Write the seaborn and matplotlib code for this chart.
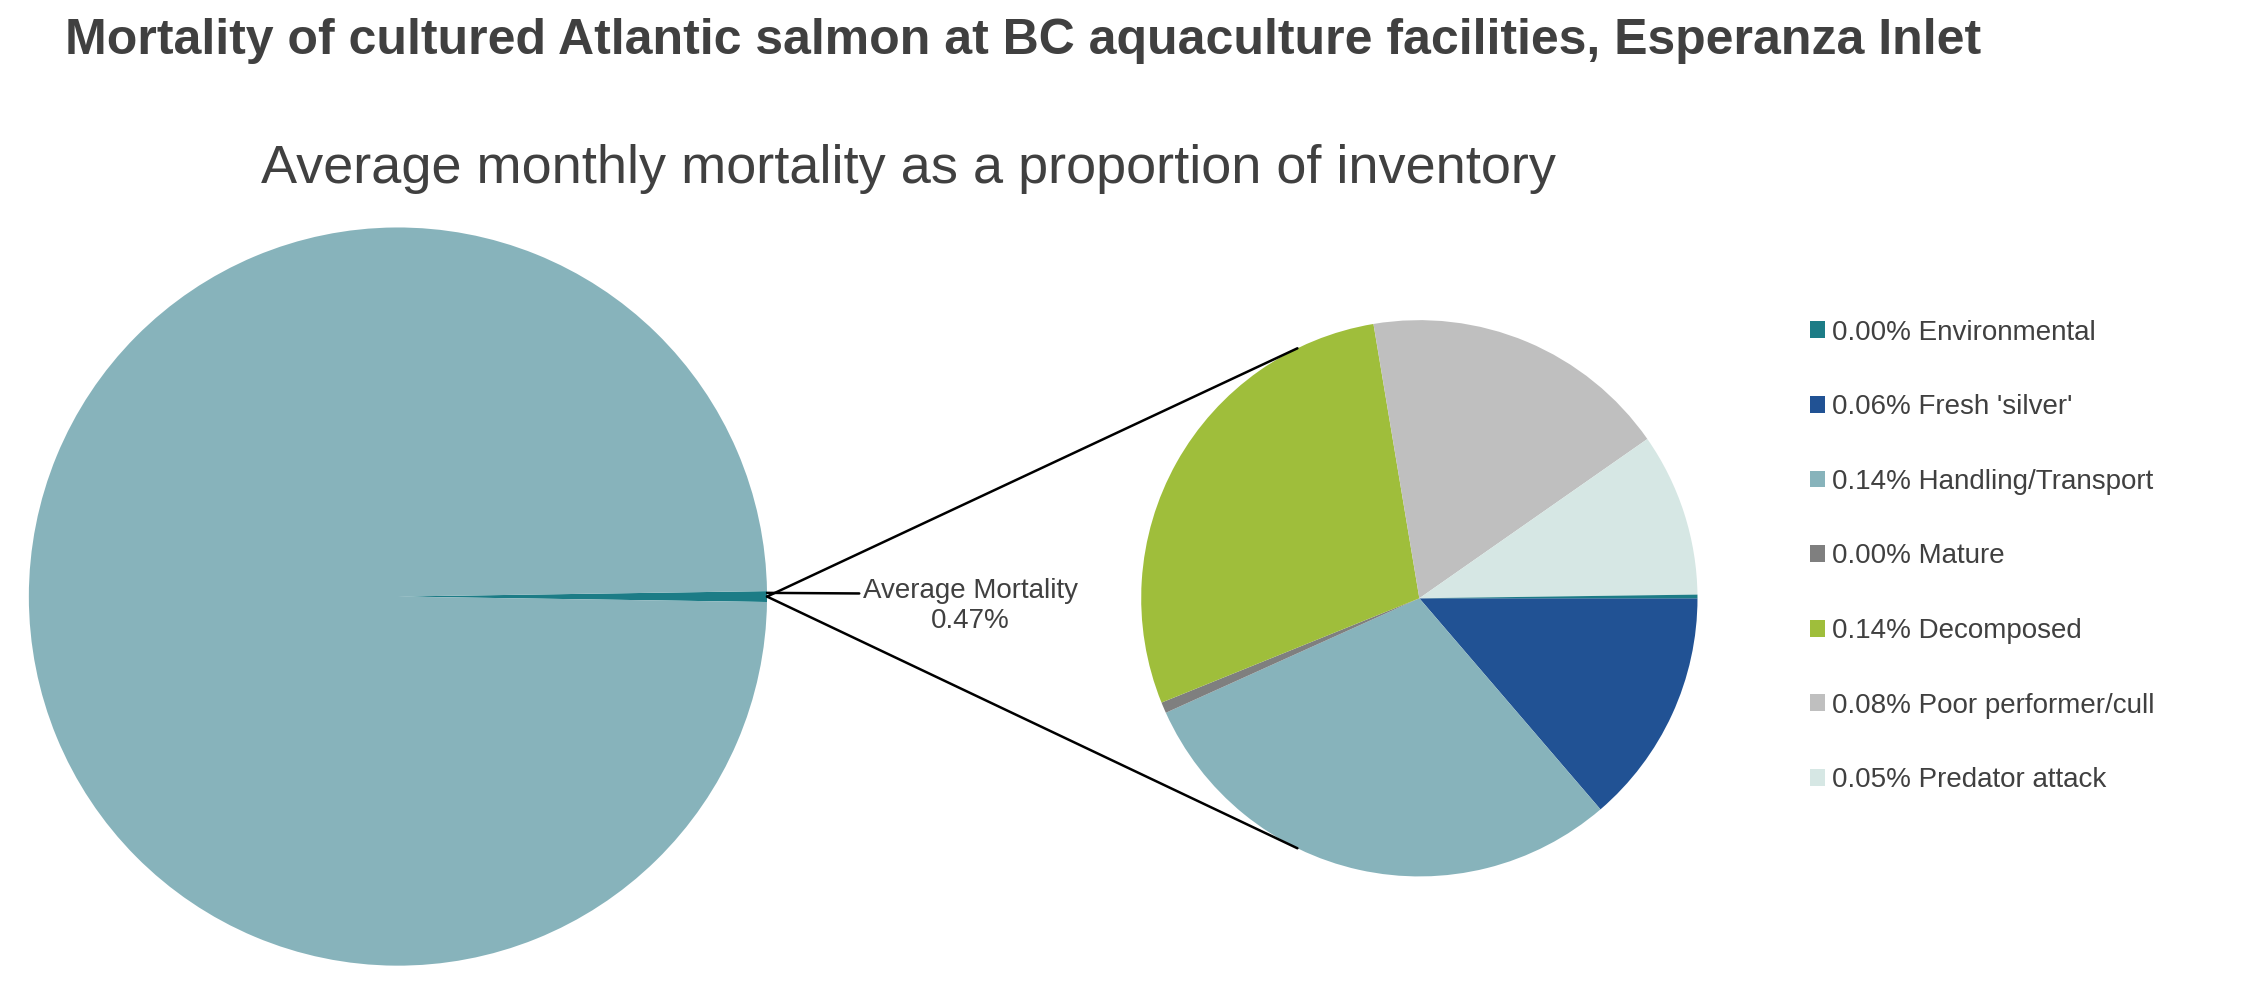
import numpy as np
import seaborn as sns
import matplotlib.pyplot as plt
from matplotlib.patches import Patch, ConnectionPatch

sns.set_theme(style="white")
plt.rcParams['font.family'] = ['Liberation Sans', 'DejaVu Sans']

# data (percent of inventory, monthly average)
categories = ['Environmental', "Fresh 'silver'", 'Handling/Transport', 'Mature',
              'Decomposed', 'Poor performer/cull', 'Predator attack']
legend_pct = ['0.00%', '0.06%', '0.14%', '0.00%', '0.14%', '0.08%', '0.05%']
values = [0.001, 0.065, 0.14, 0.003, 0.135, 0.085, 0.045]
total_mortality = 0.47
colors = ['#1c7c86', '#215294', '#87b3bb', '#7f7f7f', '#9fbe3b', '#bfbfbf', '#d6e7e4']
txt = '#404040'

fig = plt.figure(figsize=(22.54, 9.82), dpi=100)
fig.text(0.029, 0.958, 'Mortality of cultured Atlantic salmon at BC aquaculture facilities, Esperanza Inlet',
         fontsize=36, fontweight='bold', color=txt, va='center')
fig.text(0.403, 0.828, 'Average monthly mortality as a proportion of inventory',
         fontsize=39, color=txt, ha='center', va='center')

# big pie: mortality vs. rest
ax1 = fig.add_axes([0.0128, 0.0165, 0.3275, 0.752])
frac = total_mortality / 100
ax1.pie([frac, 1 - frac], colors=['#1c7c86', '#87b3bb'], startangle=-frac * 360 / 2,
        counterclock=True, wedgeprops=dict(linewidth=0))
ax1.set_xlim(-1, 1); ax1.set_ylim(-1, 1)

# small pie: breakdown of mortality, clockwise from 3 o'clock
ax2 = fig.add_axes([0.5063, 0.1075, 0.2468, 0.5665])
order = [1, 2, 3, 4, 5, 6, 0]
ax2.pie([values[i] for i in order], colors=[colors[i] for i in order], startangle=0,
        counterclock=False, wedgeprops=dict(linewidth=0))
ax2.set_xlim(-1, 1); ax2.set_ylim(-1, 1)

# connector lines
th = np.deg2rad(116)
for sgn in (1, -1):
    con = ConnectionPatch(xyA=(1.0, 0.0), coordsA=ax1.transData,
                          xyB=(np.cos(th), sgn * np.sin(th)), coordsB=ax2.transData,
                          color='black', lw=1.8)
    fig.add_artist(con)

ax1.annotate('Average Mortality\n%.2f%%' % total_mortality, xy=(1.0, 0.01), xycoords='data',
             xytext=(1.55, -0.025), textcoords='data', ha='center', va='center',
             fontsize=20, color=txt, annotation_clip=False,
             arrowprops=dict(arrowstyle='-', color='black', lw=1.8, shrinkA=0, shrinkB=0,
                             relpos=(0, 0.72)))

handles = [Patch(facecolor=c, edgecolor='none') for c in colors]
labels = ['%s %s' % (p, c) for p, c in zip(legend_pct, categories)]
leg = fig.legend(handles, labels, loc='upper left', bbox_to_anchor=(0.792, 0.7),
                 frameon=False, fontsize=20, labelspacing=1.75, handlelength=0.55,
                 handleheight=0.55, handletextpad=0.25)
for t in leg.get_texts():
    t.set_color(txt)

plt.savefig('out.png', dpi=100)
